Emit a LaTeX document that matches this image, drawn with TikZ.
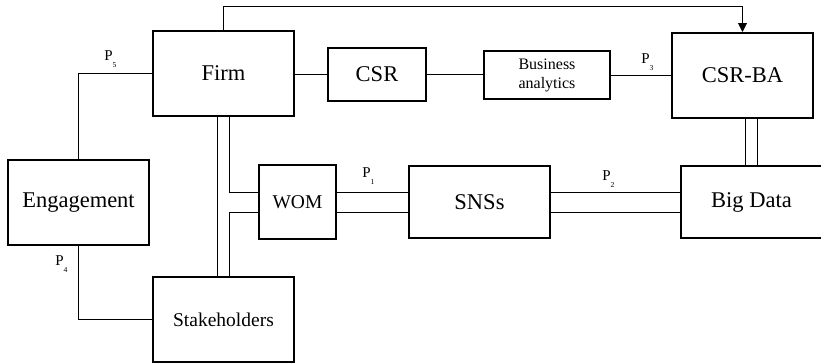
\documentclass[tikz,border=0pt]{standalone}
\usepackage{fontspec}
\setmainfont{Liberation Serif}
\usetikzlibrary{positioning, calc, arrows.meta}
\newcommand{\plab}[1]{P\raisebox{-3.5pt}{\fontsize{3.8}{4}\selectfont #1}}

\begin{document}
\begin{tikzpicture}
        [
            x=0.5pt, y=-0.5pt,
            box/.style={rectangle, draw, line width=1pt, inner sep=1pt,
                        minimum width=70.5pt, minimum height=42.5pt,
                        font=\fontsize{11.25}{13}\selectfont},
            link/.style={line width=0.5pt},
            plabel/.style={inner sep=0pt, anchor=base west,
                           font=\fontsize{7.5}{9}\selectfont}
        ]
        \useasboundingbox (0,0) rectangle (821,364);
        \node (firm) [box] at (223.5,73.5) {Firm};
        \node (csr) [box, minimum width=49pt, minimum height=26.5pt]
            at (377,74.5) {CSR};
        \node (ba) [box, minimum width=63pt, minimum height=24pt, align=center,
                    font=\fontsize{8}{9.5}\selectfont] at (547,75) {Business\\analytics};
        \node (csrba) [box] at (742.5,75.5) {CSR-BA};
        \node (engage) [box] at (78.5,202.5) {Engagement};
        \node (stake) [box, below=79.5pt of firm,
                       font=\fontsize{9.75}{11}\selectfont] {Stakeholders};
        \node (wom) [box, minimum width=38.5pt, minimum height=37pt,
                     font=\fontsize{9.75}{11}\selectfont] at (297.5,202) {WOM};
        \node (snss) [box, minimum height=36pt] at (479.5,202) {SNSs};
        \node (bigdata) [box, minimum height=36pt] at (751.5,202) {Big Data};
        % proposition labels
        \node (p1) [plabel] at (362,177) {\plab{1}};
        \node (p2) [plabel] at (602,180) {\plab{2}};
        \node (p3) [plabel] at (641,63) {\plab{3}};
        \node (p4) [plabel] at (55,265) {\plab{4}};
        \node (p5) [plabel] at (104,61) {\plab{5}};
        % single links
        \draw [link] (csr.west) -- (csr.west -| firm.east);
        \draw [link] (csr.east) -- (csr.east -| ba.west);
        \draw [link] (ba.east) -- (ba.east -| csrba.west);
        \draw [link] (firm.west) -| (engage.north);
        \draw [link] (engage.south) |- (stake.west);
        \draw [link, -{Triangle[length=4.5pt,width=4.5pt]}]
            (firm.north) -- ++(0,-24) -| (csrba.north);
        % double links
        \foreach \i/\j in {wom/snss,snss/bigdata}
            \foreach \s in {5pt,-5pt}
                \draw [link] ([yshift=\s]\i.east) -- ([yshift=\s]\j.west);
        \foreach \s in {-3pt,3pt}
            \draw [link] ([xshift=\s]bigdata.north)
                -- ([xshift=\s]bigdata.north |- csrba.south);
        \draw [link] ([xshift=-3pt]firm.south) -- ([xshift=-3pt]stake.north);
        \draw [link] ([xshift=3pt]firm.south) |- ([yshift=5pt]wom.west);
        \draw [link] ([yshift=-5pt]wom.west) -| ([xshift=3pt]stake.north);
    \end{tikzpicture}
\end{document}
